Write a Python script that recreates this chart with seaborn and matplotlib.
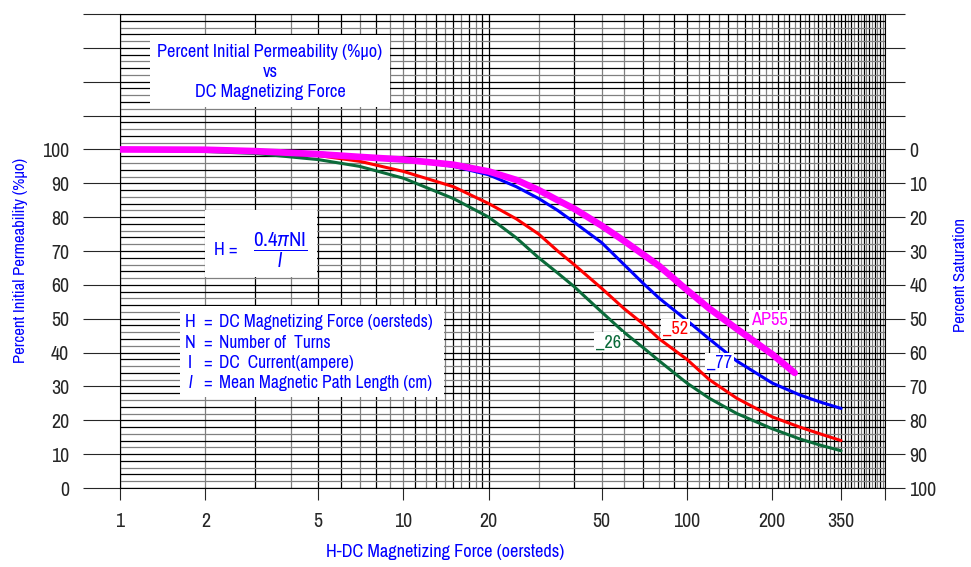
import matplotlib
matplotlib.use("Agg")
import matplotlib.pyplot as plt
import matplotlib.font_manager as fm
from matplotlib.patches import Rectangle
from matplotlib.ticker import FixedLocator, NullFormatter
import pandas as pd
import seaborn as sns

# values
h_main = [1, 2, 3, 5, 7, 10, 15, 20, 25, 30, 35, 40, 50, 60, 70, 80, 100, 120, 150, 200, 250, 300, 350]
perm_26 = [100, 99.4, 98.8, 97, 95, 91.5, 85.5, 80, 73.9, 68, 63.5, 59.5, 52, 46, 41.5, 37.5,
           31, 26.5, 22, 17.5, 14.5, 12.5, 11]
perm_52 = [100, 99.6, 99.2, 98.2, 96.5, 93.5, 89, 84, 79.5, 75, 70, 66, 59, 53, 48.5, 44,
           38, 32, 26.5, 21, 18, 15.8, 14]
perm_77 = [100, 99.8, 99.5, 99, 98, 97, 95, 92.5, 89, 85.5, 82, 78.5, 72.5, 66, 60.5, 56,
           49.5, 44, 37.5, 31, 27.5, 25.2, 23.5]
h_ap55 = [1, 2, 3, 5, 7, 10, 15, 20, 25, 30, 35, 40, 50, 60, 70, 80, 100, 120, 150, 200, 240]
perm_ap55 = [100, 99.9, 99.5, 98.6, 97.8, 97, 95.5, 93.5, 91, 88, 85, 82.5, 77.5, 73, 69, 65.5,
             58.5, 53, 47, 39.5, 34]

x_ticks = [1, 2, 5, 10, 20, 50, 100, 200, 350, 500]
x_tick_labels = ["1", "2", "5", "10", "20", "50", "100", "200", "350", ""]
x_grid = list(range(1, 21)) + list(range(30, 501, 10))
y_ticks = list(range(0, 141, 10))
y_grid = list(range(0, 141, 2))

legend_rows = [("H", "DC Magnetizing Force (oersteds)"),
               ("N", "Number of  Turns"),
               ("I", "DC  Current(ampere)"),
               ("l", "Mean Magnetic Path Length (cm)")]

curves = {"_26": (h_main, perm_26), "_52": (h_main, perm_52),
          "_77": (h_main, perm_77), "AP55": (h_ap55, perm_ap55)}
colors = {"_26": "#0b6b3a", "_52": "#ff0000", "_77": "#0000ff", "AP55": "#ff00ff"}
widths = {"_26": 2.2, "_52": 2.2, "_77": 2.2, "AP55": 4.8}

frames = []
for name, (hs, ps) in curves.items():
    frames.append(pd.DataFrame({"H": hs, "perm": ps, "grade": name}))
df = pd.concat(frames, ignore_index=True)

# pick a narrow face if one is installed, else Liberation Sans
names = sorted({f.name for f in fm.fontManager.ttflist})
narrow = [n for n in names if "Narrow" in n or "Condensed" in n]
if narrow:
    main_font, k = narrow[0], 1.2
else:
    main_font, k = "Liberation Sans", 1.0

sns.set_style("white")
plt.rcParams["font.family"] = [main_font, "DejaVu Sans"]
plt.rcParams["mathtext.fontset"] = "custom"
plt.rcParams["mathtext.rm"] = main_font
plt.rcParams["mathtext.it"] = main_font + ":italic"
BLUE = "#0000ff"
GRAY = "#808080"

fig = plt.figure(figsize=(9.71, 5.67), dpi=100)
ax = fig.add_axes([120 / 971, 79 / 567, 765 / 971, 474 / 567])

for name in curves:
    sns.lineplot(data=df[df["grade"] == name], x="H", y="perm", color=colors[name],
                 lw=widths[name], ax=ax, zorder=5, legend=False)

ax.set_xscale("log")
ax.set_xlim(1, 500)
ax.set_ylim(0, 140)

ax.xaxis.set_major_locator(FixedLocator(x_ticks))
ax.set_xticklabels(x_tick_labels)
ax.xaxis.set_minor_locator(FixedLocator([v for v in x_grid if v not in x_ticks]))
ax.xaxis.set_minor_formatter(NullFormatter())
ax.tick_params(axis="x", which="major", length=8.6, width=0.8, pad=9, labelsize=12 * k,
               direction="out", bottom=True)
ax.tick_params(axis="x", which="minor", length=0)

ax.yaxis.set_major_locator(FixedLocator(y_ticks))
ax.set_yticklabels([str(v) if v <= 100 else "" for v in y_ticks])
ax.yaxis.set_minor_locator(FixedLocator([v for v in y_grid if v % 10]))
ax.tick_params(axis="y", which="major", length=26.6, width=0.8, pad=10, labelsize=12 * k,
               direction="out", left=True)
ax.tick_params(axis="y", which="minor", length=0)

ax.grid(True, which="both", lw=0.9)
for i, t in enumerate(ax.xaxis.get_major_ticks() + ax.xaxis.get_minor_ticks()):
    t.gridline.set_color("black" if i % 2 == 0 else GRAY)
for i, t in enumerate(ax.yaxis.get_minor_ticks()):
    t.gridline.set_color(GRAY if i % 2 == 0 else "black")
for t in ax.yaxis.get_major_ticks():
    t.gridline.set_color("black")
ax.set_axisbelow(True)
for s in ax.spines.values():
    s.set_color("black")
    s.set_linewidth(0.8)

# right axis: percent saturation
ax2 = ax.twinx()
ax2.set_ylim(0, 140)
ax2.yaxis.set_major_locator(FixedLocator(y_ticks))
ax2.set_yticklabels([str(100 - v) if v <= 100 else "" for v in y_ticks])
ax2.tick_params(axis="y", length=14.4, width=0.8, pad=3, labelsize=12 * k, direction="out")
for s in ax2.spines.values():
    s.set_visible(False)

ax.set_xlabel("H-DC Magnetizing Force (oersteds)", color=BLUE, fontsize=11 * k)
ax.xaxis.set_label_coords(0.425, -0.118)
ax.set_ylabel("Percent Initial Permeability (%μo)", color=BLUE, fontsize=10 * k)
ax.yaxis.set_label_coords(-0.12, 0.48)
ax2.set_ylabel("Percent Saturation", color=BLUE, fontsize=10 * k, rotation=90)
ax2.yaxis.set_label_coords(1.089, 0.45)


def px_box(x0, y0, x1, y1):
    # white panel given in reference pixel coordinates
    fig.patches.append(Rectangle((x0 / 971, 1 - y1 / 567), (x1 - x0) / 971, (y1 - y0) / 567,
                                 transform=fig.transFigure, facecolor="white",
                                 edgecolor="none", zorder=3))


def px_text(x, y, s, **kw):
    fig.text(x / 971, 1 - y / 567, s, color=BLUE, zorder=6, **kw)


px_box(150, 35, 390, 107)
px_box(205, 210, 317, 277)
px_box(180, 306, 444, 397)

for y, line in zip([52, 72, 92], ["Percent Initial Permeability (%μo)", "vs", "DC Magnetizing Force"]):
    px_text(270, y, line, fontsize=11 * k, ha="center", va="center")
px_text(226, 250, "H =", fontsize=11 * k, ha="center", va="center")
px_text(280, 250, r"$\dfrac{0.4\pi\mathrm{NI}}{l}$", fontsize=12.5 * k, ha="center", va="center")

for y, (sym, desc) in zip([322, 343, 363, 383], legend_rows):
    px_text(190, y, sym, fontsize=11 * k, ha="center", va="center",
            style="italic" if sym == "l" else "normal")
    px_text(208, y, "=", fontsize=11 * k, ha="center", va="center")
    px_text(219, y, desc, fontsize=10.5 * k, ha="left", va="center")

label_pos = {"_26": (53, 43), "_52": (91, 47), "_77": (130, 37), "AP55": (196, 49.5)}
for name, (lx, ly) in label_pos.items():
    ax.text(lx, ly, name, color=colors[name], fontsize=11 * k, ha="center", va="center", zorder=7,
            bbox=dict(facecolor="white", edgecolor="none", pad=1.5))

fig.savefig("out.png", dpi=100)
